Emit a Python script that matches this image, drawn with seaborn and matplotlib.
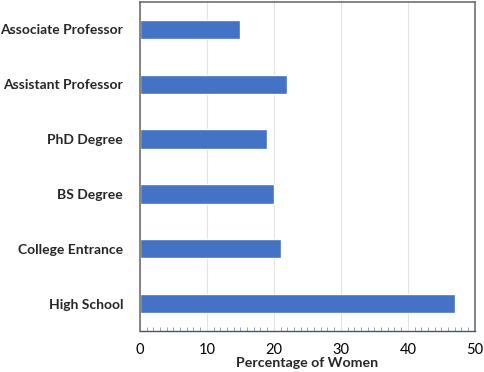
import numpy as np
import pandas as pd
import matplotlib
matplotlib.use("Agg")
import matplotlib.pyplot as plt
import seaborn as sns
from matplotlib.ticker import MultipleLocator

# Share of women at each career stage (top to bottom as drawn)
stages = ["Associate Professor", "Assistant Professor", "PhD Degree",
          "BS Degree", "College Entrance", "High School"]
pct_women = [15, 22, 19, 20, 21, 47]

df = pd.DataFrame({"stage": stages, "pct": pct_women})

sns.set_style("white")
plt.rcParams["font.family"] = ["Lato", "DejaVu Sans"]

fig = plt.figure(figsize=(4.84, 3.72), dpi=100)
ax = fig.add_axes([0.289, 0.110, 0.692, 0.885])

sns.barplot(data=df, x="pct", y="stage", order=stages, color="#4472C4",
            saturation=1, width=0.35, orient="h", ax=ax)

ax.set_xlim(0, 50)
ax.xaxis.set_major_locator(MultipleLocator(10))
ax.xaxis.set_minor_locator(MultipleLocator(1))
ax.grid(axis="x", which="major", color="#e3e3e3", linewidth=0.8)
ax.set_axisbelow(True)

for side in ["left", "top", "right"]:
    ax.spines[side].set_color("#707070")
    ax.spines[side].set_linewidth(1.2)
ax.spines["bottom"].set_color("#44546A")
ax.spines["bottom"].set_linewidth(1.0)

ax.tick_params(axis="x", which="major", length=0, labelsize=10.5, pad=8.5, colors="black")
ax.tick_params(axis="x", which="minor", direction="in", length=3, width=0.6,
               color="#8497B0", bottom=True)
ax.tick_params(axis="y", length=0, pad=12)
for lbl in ax.get_yticklabels():
    lbl.set_fontweight("bold")
    lbl.set_fontsize(10)

ax.set_ylabel("")
ax.set_xlabel("Percentage of Women", fontsize=10.2, fontweight="bold", labelpad=0)

fig.savefig("out.png", dpi=100)
